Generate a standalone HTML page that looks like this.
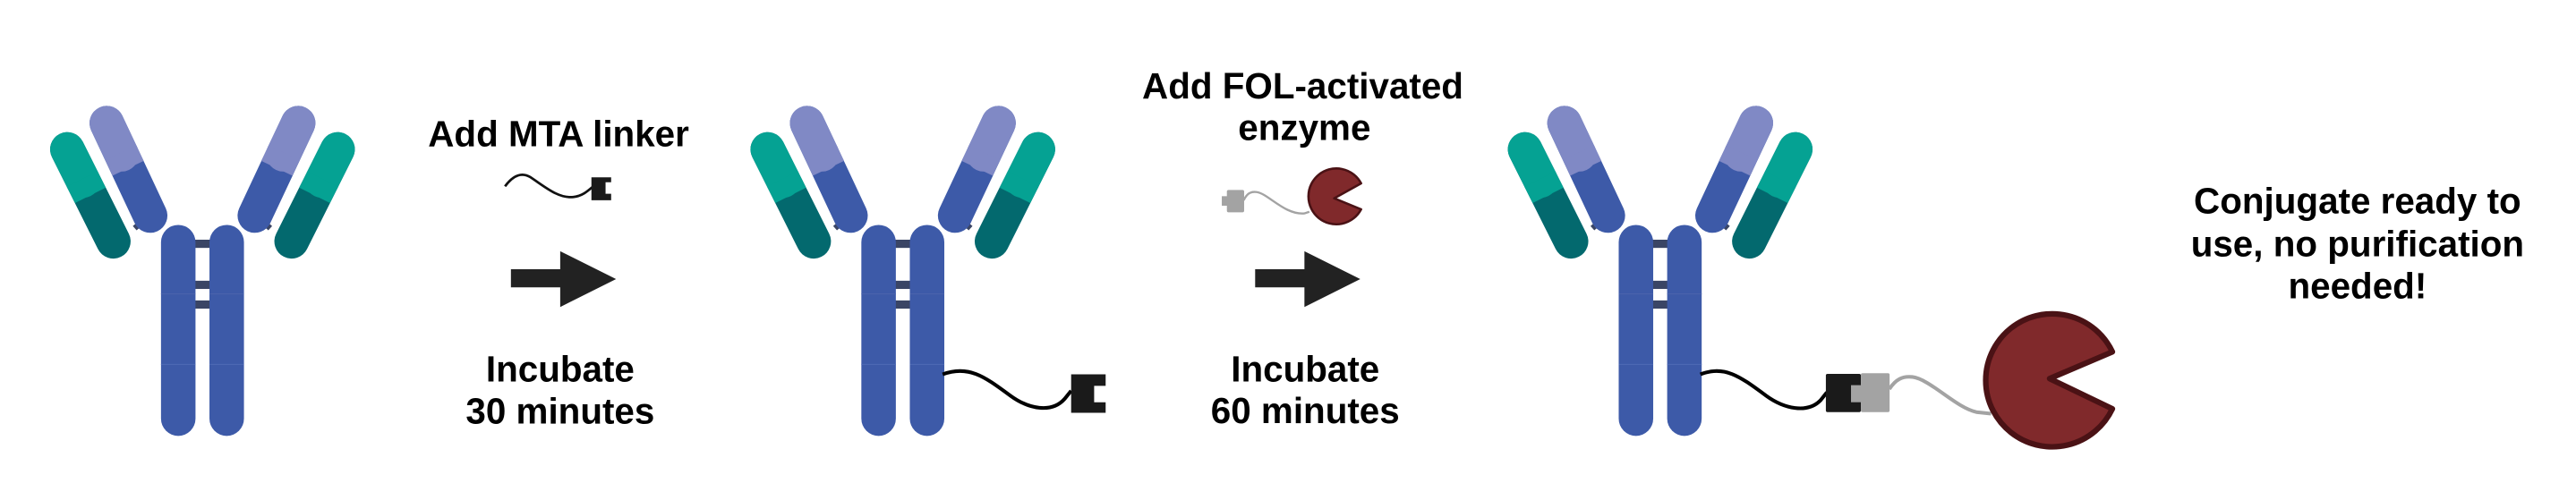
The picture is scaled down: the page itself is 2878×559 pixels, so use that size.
<!DOCTYPE html>
<html><head><meta charset="utf-8"><style>
html,body{margin:0;padding:0;background:#fff;}
svg{display:block;}
text{font-family:"Liberation Sans",sans-serif;font-weight:bold;fill:#000;}
</style></head><body>
<svg width="2878" height="559" viewBox="0 0 1568 304.55" preserveAspectRatio="none" xmlns="http://www.w3.org/2000/svg">
<defs>
<g id="half">
  <line x1="82" y1="139" x2="90" y2="132" stroke="#3a4565" stroke-width="3.5"/>
  <!-- teal outer arm -->
  <line x1="41" y1="91" x2="69" y2="147" stroke="#03696e" stroke-width="21" stroke-linecap="round"/>
  <line x1="41" y1="91" x2="50.5" y2="110" stroke="#05a293" stroke-width="21" stroke-linecap="round"/>
  <line x1="50" y1="109" x2="55" y2="119" stroke="#05a293" stroke-width="21"/>
  <!-- inner arm -->
  <line x1="65" y1="75" x2="91.4" y2="131.3" stroke="#3d5aa8" stroke-width="21" stroke-linecap="round"/>
  <line x1="65" y1="75" x2="74" y2="94" stroke="#8089c5" stroke-width="21" stroke-linecap="round"/>
  <line x1="73.5" y1="93" x2="78" y2="102.5" stroke="#8089c5" stroke-width="21"/>
</g>
<g id="ab">
  <use href="#half"/>
  <use href="#half" transform="translate(246.5,0) scale(-1,1)"/>
  <!-- hinge bars -->
  <rect x="118" y="146" width="11" height="5" fill="#3a4565"/>
  <rect x="118" y="171" width="11" height="5" fill="#3a4565"/>
  <rect x="118" y="183" width="11" height="5" fill="#3a4565"/>
  <!-- stems -->
  <rect x="98" y="137" width="21" height="128.5" rx="10.5" fill="#3d5aa8"/>
  <rect x="127.5" y="137" width="21" height="128.5" rx="10.5" fill="#3d5aa8"/>
  <line x1="98" y1="179" x2="119" y2="179" stroke="#4a63ad" stroke-width="0.6"/>
  <line x1="127.5" y1="179" x2="148.5" y2="179" stroke="#4a63ad" stroke-width="0.6"/>
  <line x1="98" y1="222" x2="119" y2="222" stroke="#4d68b3" stroke-width="0.6"/>
  <line x1="127.5" y1="222" x2="148.5" y2="222" stroke="#4d68b3" stroke-width="0.6"/>
</g>
<g id="arrow">
  <polygon points="0,11 30,11 30,0 64,17 30,34 30,22 0,22" fill="#222"/>
</g>
</defs>

<use href="#ab"/>
<text x="340" y="89" font-size="22" text-anchor="middle">Add MTA linker</text>
<path d="M307.4,113.5 C313,106 318,105 323,108 C332,114 340,121 349,120 C354,119.5 357,117 360.5,114" fill="none" stroke="#111" stroke-width="1.5"/>
<path d="M360,108 H372 V111 H368.6 V118 H372 V122 H360 Z" fill="#1a1a1a"/>
<use href="#arrow" x="311" y="153"/>
<text x="341" y="232.5" font-size="22" text-anchor="middle">Incubate</text>
<text x="341" y="258" font-size="22" text-anchor="middle">30 minutes</text>

<use href="#ab" x="426.3"/>
<path d="M573.8,228 C590,222 600,230 615,241 C626,249 640,252 648,243 L652,238" fill="none" stroke="#000" stroke-width="2.2"/>
<path d="M652,228 H673 V235 H666 V245 H673 V251.4 H652 Z" fill="#1a1a1a"/>

<text x="793" y="60" font-size="22" text-anchor="middle">Add FOL-activated</text>
<text x="794" y="85.3" font-size="22" text-anchor="middle">enzyme</text>
<rect x="746.8" y="115.7" width="10.5" height="13.6" rx="1" fill="#a3a3a3"/>
<rect x="743.7" y="119.5" width="4" height="5.8" fill="#a3a3a3"/>
<path d="M757,122 C759,118 761,116.5 765,117 C772,118 782,131 794,130 L797,129" fill="none" stroke="#a3a3a3" stroke-width="1.3"/>
<path d="M812.1,120.8 L828.5,111.7 A17,17 0 1,0 828.5,127.5 Z" fill="#80292b" stroke="#4a1215" stroke-width="1.4" stroke-linejoin="round"/>
<use href="#arrow" x="764" y="153"/>
<text x="794.5" y="232.4" font-size="22" text-anchor="middle">Incubate</text>
<text x="794.5" y="257.8" font-size="22" text-anchor="middle">60 minutes</text>

<use href="#ab" x="887.3"/>
<path d="M1035,228 C1050,222 1060,230 1075,241 C1086,249 1100,252 1108,244 L1112,239" fill="none" stroke="#000" stroke-width="2.2"/>
<rect x="1111.4" y="227.7" width="21.3" height="23.3" rx="1" fill="#1a1a1a"/>
<rect x="1132.7" y="227.3" width="17.5" height="23.7" rx="1" fill="#a3a3a3"/>
<rect x="1126.7" y="234.6" width="6.5" height="10.4" fill="#a3a3a3"/>
<path d="M1150,237 C1154,231 1158,229 1164,229.6 C1175,231 1190,248 1203,251 L1212,252" fill="none" stroke="#a3a3a3" stroke-width="2.2"/>
<path d="M1247.6,230.6 L1285.8,214.3 A40.5,40.5 0 1,0 1285.8,249 Z" fill="#80292b" stroke="#4a1215" stroke-width="3.4" stroke-linejoin="round"/>

<text x="1435" y="130" font-size="22" text-anchor="middle">Conjugate ready to</text>
<text x="1435" y="156" font-size="22" text-anchor="middle">use, no purification</text>
<text x="1435" y="181.6" font-size="22" text-anchor="middle">needed!</text>
</svg>
</body></html>
